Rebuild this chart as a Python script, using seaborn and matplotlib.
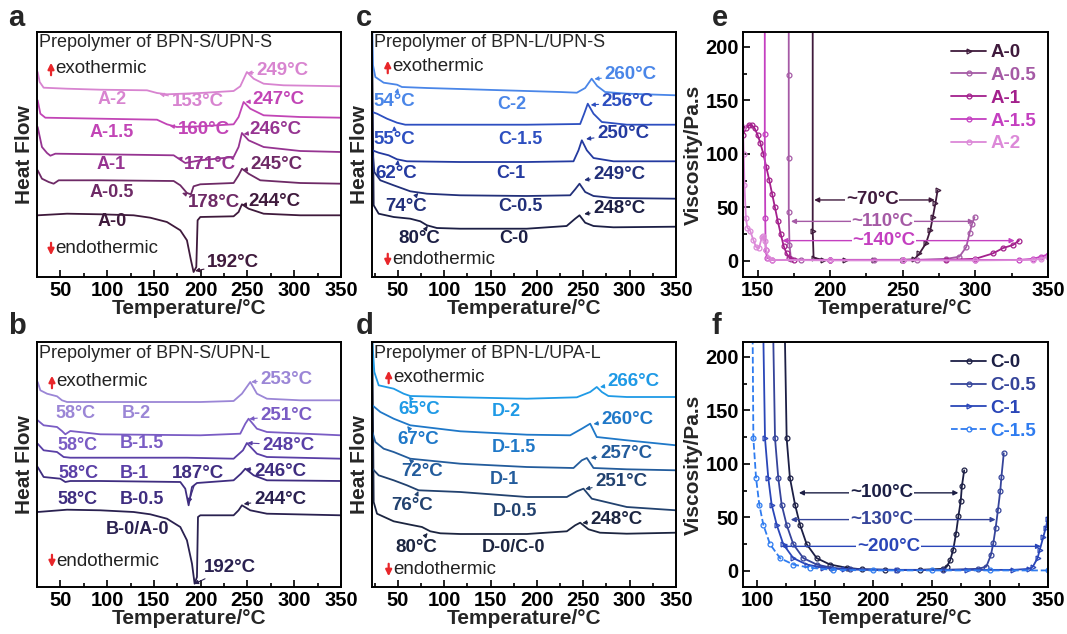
import matplotlib
matplotlib.use("Agg")
import matplotlib.pyplot as plt
from matplotlib.ticker import MultipleLocator, NullLocator
import pandas as pd
import seaborn as sns

# ---------------- a: DSC, prepolymer of BPN-S/UPN-S ----------------
a_names = ["A-0", "A-0.5", "A-1", "A-1.5", "A-2"]
a_colors = ["#3f1a3c", "#6e2a66", "#963491", "#c245b6", "#d884d0"]
a0_temp = [25.7, 57.1, 92.7, 128.3, 146.1, 163.9, 178.2, 185.3, 189.6, 192.4, 195.3, 196.7, 199.6, 235.2, 240.5, 244.1, 251.2, 267.3, 306.4, 350]
a0_flow = [61.7, 63.3, 62.7, 61.7, 59.3, 55, 46.7, 36.7, 16.7, 5, 10, 56.7, 60, 60.7, 65, 72.7, 68.3, 63.3, 61.7, 61.7]
a05_temp = [25.7, 30.3, 37.5, 42.8, 48.2, 92.7, 171.1, 178.2, 185.3, 189.6, 192.4, 199.6, 235.2, 240.5, 244.1, 251.2, 263.7, 306.4, 350]
a05_flow = [106.7, 98.3, 95, 93.3, 96.7, 96.7, 96, 91.7, 84, 82.7, 90.7, 92.7, 94, 101.7, 108.3, 103.3, 96.7, 94, 93.3]
a1_temp = [25.7, 30.3, 35.7, 39.3, 44.6, 92.7, 171.1, 178.2, 183.5, 199.6, 235.2, 240.5, 244.1, 251.2, 267.3, 306.4, 350]
a1_flow = [150, 130, 124, 121.3, 123.3, 122.7, 121.7, 117.3, 114, 116.7, 120, 130, 144, 136.7, 130, 126, 125]
a15_temp = [25.7, 28.6, 33.9, 92.7, 153.3, 163.9, 174.6, 199.6, 235.2, 240.5, 245.9, 253, 267.3, 306.4, 350]
a15_flow = [176.7, 163.3, 159.3, 158.3, 157.3, 152.7, 150, 150.7, 152.7, 160, 175, 168.3, 161.7, 160, 159.3]
a2_temp = [25.7, 27.9, 32.1, 57.1, 92.7, 142.6, 153.3, 163.9, 199.6, 235.2, 242.3, 249.4, 256.6, 267.3, 288.6, 350]
a2_flow = [205, 195, 189.3, 188.3, 187.3, 186.7, 184, 182.7, 184, 186, 190.7, 205, 198.3, 193.3, 191.7, 190.7]

# ---------------- b: DSC, prepolymer of BPN-S/UPN-L ----------------
b_names = ["B-0", "B-0.5", "B-1", "B-1.5", "B-2"]
b_colors = ["#2a2150", "#3f2d80", "#5a3fa6", "#7a5cc4", "#9b86d6"]
b0_temp = [25.7, 57.1, 92.7, 128.3, 146.1, 163.9, 178.2, 185.3, 190.7, 193.5, 196, 197.1, 199.6, 235.2, 240.5, 244.1, 253, 270.8, 350]
b0_flow = [75, 77.3, 76.7, 75, 72.7, 68.3, 60, 46.7, 23.3, 3.3, 10, 70, 71.7, 71.7, 76.7, 81.7, 76.7, 73.3, 71.7]
b05_temp = [25.7, 32.1, 49.9, 55.3, 60.6, 92.7, 178.2, 183.5, 187.1, 190.7, 196, 235.2, 243, 247.7, 256.6, 270.8, 350]
b05_flow = [120, 110, 108.3, 105, 106, 106, 105, 98.3, 81.7, 100, 104, 106.7, 113.3, 118.3, 111.7, 106.7, 106]
b1_temp = [25.7, 32.1, 46.4, 53.5, 60.6, 92.7, 185.3, 235.2, 245.2, 249.4, 260.1, 270.8, 350]
b1_flow = [143.3, 136.7, 135, 130, 129.3, 129.3, 129.3, 128.3, 136.7, 144, 133.3, 130, 128.3]
b15_temp = [25.7, 32.1, 46.4, 51.7, 55.3, 60.6, 92.7, 199.6, 242.3, 247.7, 251.2, 260.1, 270.8, 350]
b15_flow = [166.7, 161.7, 160, 156, 152.7, 156, 152.7, 151.7, 153.3, 163.3, 168.3, 158.3, 155, 151.7]
b2_temp = [25.7, 28.6, 35.7, 46.4, 51.7, 57.1, 92.7, 199.6, 235.2, 244.1, 253, 260.1, 270.8, 306.4, 350]
b2_flow = [205, 196.7, 193.3, 190.7, 186.7, 185, 185, 185, 186, 193.3, 205, 193.3, 188.3, 186.7, 186.7]

# ---------------- c: DSC, prepolymer of BPN-L/UPN-S ----------------
c_names = ["C-0", "C-0.5", "C-1", "C-1.5", "C-2"]
c_colors = ["#1c1f45", "#22307a", "#243aa0", "#2d4fc0", "#4a86e8"]
c0_temp = [22.4, 23.8, 29.2, 45.4, 63.3, 74.1, 81.3, 92, 117, 189, 232, 241.2, 245.9, 252, 261, 282.5, 350]
c0_flow = [211.7, 71.7, 63.3, 60, 58.3, 55.7, 51.7, 49, 48.3, 48.3, 51, 58.3, 61.7, 54.3, 51, 49.7, 50.3]
c05_temp = [22.4, 24.5, 31, 45.4, 63.3, 81.3, 117, 189, 235.8, 241.2, 245.9, 252, 261, 282.5, 350]
c05_flow = [128.3, 105, 96.7, 91.7, 85.7, 83.3, 81.7, 81, 81.7, 87.7, 93.3, 85, 81, 79, 78.3]
c1_temp = [22.4, 29.2, 40, 49, 59.7, 117, 189, 239.4, 244.8, 248.4, 253.8, 261, 282.5, 350]
c1_flow = [126.7, 124.3, 121.7, 117.7, 115.7, 115, 115, 115.7, 126.7, 136.7, 126.7, 119, 115.7, 115.7]
c15_temp = [22.4, 27.4, 38.2, 49, 57.9, 117, 189, 246.6, 250.9, 254.8, 261, 270, 297, 350]
c15_flow = [165, 163.3, 158.3, 154.3, 152.3, 152.3, 152.3, 153, 163.3, 173.3, 163.3, 155, 152.3, 152.3]
c2_temp = [22.4, 23.1, 25.6, 34.6, 49, 54.3, 81.3, 153, 225, 243, 252, 259, 265, 273.5, 297, 350]
c2_flow = [245, 211.7, 200, 194.3, 192.3, 190, 189, 187, 185, 184.3, 189, 198.3, 191, 185, 183.3, 181.7]

# ---------------- d: DSC, prepolymer of BPN-L/UPA-L ----------------
d_names = ["D-0", "D-0.5", "D-1", "D-1.5", "D-2"]
d_colors = ["#1c2540", "#22426f", "#235c9c", "#1f78c8", "#1f9ae6"]
d0_temp = [22.4, 23.8, 27.4, 45.4, 63.3, 75.9, 84.9, 95.7, 117.2, 189.1, 232.2, 241.2, 246.6, 255.6, 268, 296.9, 350]
d0_flow = [245, 85, 73.3, 65.7, 62.3, 60, 55.7, 53.7, 53, 53, 55.7, 61.7, 64.3, 57.7, 54.3, 53.3, 54.3]
d05_temp = [22.4, 29.2, 45.4, 59.7, 72.3, 117.2, 189.1, 232.2, 243, 250.2, 259.2, 296.9, 350]
d05_flow = [118.3, 111.7, 106.7, 101.7, 96.7, 95, 90, 90, 95.7, 98.3, 88.3, 80, 76.7]
d1_temp = [22.4, 25.6, 34.6, 45.4, 63.3, 117.2, 189.1, 239.4, 248.4, 253.8, 261, 296.9, 350]
d1_flow = [155, 145, 138.3, 135, 128.3, 123.3, 120, 119, 126.7, 129, 119, 117.7, 116.7]
d15_temp = [22.4, 31, 45.4, 63.3, 117.2, 189.1, 235.8, 248.4, 257.4, 264.5, 296.9, 350]
d15_flow = [181.7, 175, 168.3, 161.7, 155.7, 152.3, 151.7, 158.3, 163.3, 150, 146.7, 141.7]
d2_temp = [22.4, 24.5, 29.2, 45.4, 56.1, 63.3, 117.2, 189.1, 243, 257.4, 264.5, 270, 277, 296.9, 350]
d2_flow = [245, 215, 201.7, 198.3, 193.3, 191, 189.7, 188.3, 189.7, 195, 200, 195, 191, 190, 190]

# ---------------- e: viscosity, A series ----------------
e_colors = ["#3f1a3c", "#a55aa5", "#a3208c", "#c43fc0", "#dc88d8"]
e0_temp = [188, 188, 188.6, 195, 210, 230, 250, 258, 261.5, 266, 269, 270.7, 272.5, 274]
e0_visc = [300, 28, 3, 1, 1, 1, 1, 1.5, 7, 16.5, 29, 41, 54, 66]
e05_temp = [171.5, 171.5, 171.5, 171.5, 172, 173, 180, 200, 230, 260, 280, 289, 293.7, 296, 297.8, 299.4]
e05_visc = [300, 174, 96, 46, 15, 2, 1, 1, 1, 1, 2, 4, 13, 26, 35, 41]
e1_temp = [140, 142, 144, 146, 148, 150, 152, 154, 156, 158, 160, 162, 164, 166, 168, 170, 172, 175, 200, 250, 280, 300, 312, 319, 326, 330]
e1_visc = [118, 124, 127, 127, 124, 118, 110, 100, 88, 76, 63, 50, 37, 25, 14, 7, 3, 1, 1, 1, 1, 2, 7, 12, 15, 19]
e15_temp = [155, 155, 155.3, 155.6, 156.5, 160, 200, 250, 300, 330, 340, 345, 350]
e15_visc = [300, 119, 40, 10, 3, 1, 1, 1, 1, 1, 2, 4, 6]
e2_temp = [140, 140.5, 141, 142, 143, 145, 147, 149, 151, 153, 154, 155, 156, 157.5, 160, 200, 250, 300, 340, 345, 350]
e2_visc = [125, 100, 71, 40, 31, 28, 20, 13, 12, 22, 23, 19, 10, 3, 1, 0.5, 0.5, 0.5, 1, 2, 4]

# ---------------- f: viscosity, C series ----------------
f_names = ["C-0", "C-0.5", "C-1", "C-1.5"]
f_colors = ["#1c1f45", "#35449a", "#2a46b8", "#2f7cf0"]
f0_temp = [124, 125.5, 128.3, 132.7, 137, 142.7, 151.3, 162.7, 177, 190, 210, 240, 260, 263, 266, 268.6, 271, 273, 275, 276, 278]
f0_visc = [218, 124, 87, 62, 43, 25, 12, 6, 3, 1.5, 1, 1, 2, 4, 10, 20, 35, 51, 65, 79, 94]
f05_temp = [114, 115.5, 118.3, 121.2, 125.5, 131.2, 139.8, 151.3, 164, 180, 220, 260, 290, 297, 301, 303, 305, 307, 309, 310, 312]
f05_visc = [218, 124, 87, 62, 43, 25, 12, 6, 3, 1.5, 1, 1, 2, 4, 15, 26, 40, 57, 75, 88, 110]
f1_temp = [105.5, 106.9, 109.7, 112.6, 117, 122.6, 131.2, 142.7, 157, 175, 220, 280, 320, 334, 337, 341, 343, 346, 348, 350]
f1_visc = [218, 124, 87, 62, 43, 25, 12, 6, 3, 1.5, 1, 1, 1, 2, 4, 12, 20, 32, 40, 49]
f15_temp = [96.3, 96.9, 99.2, 102, 105.5, 111.2, 119.8, 131.2, 145.5, 165, 200, 250, 300, 350]
f15_visc = [218, 124, 87, 62, 43, 25, 12, 6, 3, 1, 0.5, 0.5, 0.5, 0.5]

sns.set_style("ticks")
plt.rcParams["font.family"] = ["Liberation Sans", "DejaVu Sans"]
plt.rcParams["font.weight"] = "bold"
plt.rcParams["axes.labelweight"] = "bold"

fig = plt.figure(figsize=(10.67, 6.34), dpi=100)
W, H = 1067, 634


def add_ax(left, top, width=304, height=245):
    return fig.add_axes([left / W, 1 - (top + height) / H, width / W, height / H])


def frame(ax, minor=25):
    for s in ax.spines.values():
        s.set_linewidth(1.4)
        s.set_color("black")
    ax.tick_params(which="both", direction="in", width=1.2, colors="black")
    ax.tick_params(which="major", length=5, labelsize=14.5, pad=3)
    ax.tick_params(which="minor", length=3)
    ax.xaxis.set_minor_locator(MultipleLocator(minor))
    ax.set_xlabel("Temperature/°C", fontsize=15, labelpad=-1)


def dsc(ax, names, colors, temps, flows, xmin, title):
    df = pd.concat([pd.DataFrame({"sample": n, "temp": t, "flow": f})
                    for n, t, f in zip(names, temps, flows)], ignore_index=True)
    sns.lineplot(data=df, x="temp", y="flow", hue="sample", hue_order=names,
                 palette=colors, estimator=None, sort=False, legend=False,
                 linewidth=1.3, ax=ax)
    ax.set_xlim(xmin, 350)
    ax.set_ylim(0, 245)
    ax.set_xticks([50, 100, 150, 200, 250, 300, 350])
    ax.yaxis.set_major_locator(NullLocator())
    ax.yaxis.set_minor_locator(NullLocator())
    frame(ax)
    ax.set_ylabel("Heat Flow", fontsize=15, labelpad=2)
    ax.text(xmin + 2, 234, title, fontsize=13, fontweight="normal", va="center", ha="left")


def exo_endo(ax, x, exo_y, endo_y):
    ax.annotate("", xy=(x, exo_y + 9), xytext=(x, exo_y - 9),
                arrowprops=dict(arrowstyle="-|>", color="#e8262a", lw=1.6, mutation_scale=9))
    ax.annotate("", xy=(x, endo_y - 9), xytext=(x, endo_y + 9),
                arrowprops=dict(arrowstyle="-|>", color="#e8262a", lw=1.6, mutation_scale=9))
    ax.text(x + 5, exo_y, "exothermic", fontsize=13.5, fontweight="normal", va="center", ha="left", color="#222222")
    ax.text(x + 5, endo_y, "endothermic", fontsize=13.5, fontweight="normal", va="center", ha="left", color="#222222")


def label(ax, text, xy, color, ha="center"):
    ax.text(xy[0], xy[1], text, color=color, fontsize=13, ha=ha, va="center")


def point(ax, text, xy_text, tip, color, ha="left"):
    ax.annotate(text, xy=tip, xytext=xy_text, color=color, fontsize=13.5, ha=ha, va="center",
                arrowprops=dict(arrowstyle="-|>", color=color, lw=0.8, mutation_scale=6,
                                shrinkA=0, shrinkB=0))


# panel a
ax = add_ax(37, 32)
dsc(ax, a_names, a_colors, [a0_temp, a05_temp, a1_temp, a15_temp, a2_temp],
    [a0_flow, a05_flow, a1_flow, a15_flow, a2_flow], 25, "Prepolymer of BPN-S/UPN-S")
exo_endo(ax, 40, 208, 28)
for t, xy, i in [("A-2", (105, 177), 4), ("A-1.5", (105, 144), 3), ("A-1", (104, 112), 2),
                 ("A-0.5", (105, 84), 1), ("A-0", (105, 55), 0)]:
    label(ax, t, xy, a_colors[i])
for t, xy, tip, i in [("249°C", (260, 206), (250, 204), 4), ("153°C", (169, 175), (156, 183), 4),
                      ("247°C", (255, 177), (248, 175), 3), ("160°C", (176, 147), (167, 151), 3),
                      ("246°C", (252, 147), (246, 143), 2), ("171°C", (182, 112), (175, 119), 2),
                      ("245°C", (253, 112), (245, 107), 1), ("178°C", (186, 74), (180, 84), 1),
                      ("244°C", (251, 75), (244, 72), 0), ("192°C", (207, 14), (194, 6), 0)]:
    point(ax, t, xy, tip, a_colors[i])

# panel b
ax = add_ax(37, 342)
dsc(ax, b_names, b_colors, [b0_temp, b05_temp, b1_temp, b15_temp, b2_temp],
    [b0_flow, b05_flow, b1_flow, b15_flow, b2_flow], 25, "Prepolymer of BPN-S/UPN-L")
exo_endo(ax, 41, 205, 26)
for t, xy, i in [("58°C", (66, 173), 4), ("B-2", (131, 173), 4), ("58°C", (68, 142), 3),
                 ("B-1.5", (137, 143), 3), ("58°C", (69, 113), 2), ("B-1", (129, 113), 2),
                 ("58°C", (68, 88), 1), ("B-0.5", (137, 88), 1), ("B-0/A-0", (132, 58), 0)]:
    label(ax, t, xy, b_colors[i])
for t, xy, tip, i in [("253°C", (264, 208), (254, 205), 4), ("251°C", (264, 172), (252, 168), 3),
                      ("248°C", (266, 142), (250, 144), 2), ("246°C", (257, 115), (248, 118), 1),
                      ("244°C", (257, 88), (246, 83), 0), ("192°C", (203, 20), (193, 3), 0)]:
    point(ax, t, xy, tip, b_colors[i])
point(ax, "187°C", (197, 113), (187, 84), b_colors[1], ha="center")

# panel c
ax = add_ax(372, 32)
dsc(ax, c_names, c_colors, [c0_temp, c05_temp, c1_temp, c15_temp, c2_temp],
    [c0_flow, c05_flow, c1_flow, c15_flow, c2_flow], 22, "Prepolymer of BPN-L/UPN-S")
exo_endo(ax, 39, 210, 17)
for t, xy, i in [("C-2", (173, 172), 4), ("C-1.5", (182, 137), 3), ("C-1", (172, 103), 2),
                 ("C-0.5", (182, 70), 1), ("C-0", (175, 38), 0)]:
    label(ax, t, xy, c_colors[i])
for t, xy, tip, i in [("260°C", (273, 202), (262, 198), 4), ("54°C", (24, 175), (50, 189), 4),
                      ("256°C", (270, 175), (258, 172), 3), ("55°C", (24, 137), (46, 151), 3),
                      ("250°C", (265, 143), (253, 138), 2), ("62°C", (26, 103), (50, 117), 2),
                      ("249°C", (261, 102), (251, 97), 1), ("74°C", (36, 70), (72, 84), 1),
                      ("248°C", (261, 68), (251, 63), 0), ("80°C", (50, 38), (82, 51), 0)]:
    point(ax, t, xy, tip, c_colors[i])

# panel d
ax = add_ax(372, 342)
dsc(ax, d_names, d_colors, [d0_temp, d05_temp, d1_temp, d15_temp, d2_temp],
    [d0_flow, d05_flow, d1_flow, d15_flow, d2_flow], 22, "Prepolymer of BPN-L/UPA-L")
exo_endo(ax, 40, 210, 17)
for t, xy, i in [("D-2", (167, 175), 4), ("D-1.5", (175, 140), 3), ("D-1", (165, 108), 2),
                 ("D-0.5", (176, 75), 1), ("D-0/C-0", (175, 40), 0)]:
    label(ax, t, xy, d_colors[i])
for t, xy, tip, i in [("266°C", (276, 205), (268, 200), 4), ("65°C", (50, 177), (62, 191), 4),
                      ("260°C", (270, 168), (261, 163), 3), ("67°C", (49, 147), (60, 161), 3),
                      ("257°C", (268, 133), (258, 129), 2), ("72°C", (54, 115), (62, 128), 2),
                      ("251°C", (263, 105), (252, 98), 1), ("76°C", (43, 82), (72, 96), 1),
                      ("248°C", (258, 68), (249, 64), 0), ("80°C", (47, 40), (82, 54), 0)]:
    point(ax, t, xy, tip, d_colors[i])


def viscosity(ax, series, colors, markers, styles, xmin, xticks):
    for (name, t, v), c, m, ls in zip(series, colors, markers, styles):
        sns.lineplot(x=t, y=v, color=c, marker=m, markersize=3.5, markerfacecolor="none",
                     markeredgewidth=0.9, markeredgecolor=c, linewidth=1.3, linestyle=ls,
                     estimator=None, sort=False, label=name, ax=ax)
    ax.set_xlim(xmin, 350)
    ax.set_ylim(-15, 214)
    ax.set_xticks(xticks)
    ax.set_yticks([0, 50, 100, 150, 200])
    ax.yaxis.set_minor_locator(MultipleLocator(25))
    frame(ax)
    ax.set_ylabel("Viscosity/Pa.s", fontsize=15, labelpad=2)
    leg = ax.legend(loc="upper right", frameon=False, fontsize=13.5, handlelength=1.9,
                    handletextpad=0.2, labelspacing=0.3, borderaxespad=0.25)
    for txt, c in zip(leg.get_texts(), colors):
        txt.set_color(c)


def span(ax, text, x0, x1, y, xc, color):
    ax.annotate("", xy=(x0, y), xytext=(x1, y),
                arrowprops=dict(arrowstyle="<|-|>", color=color, lw=1.0, mutation_scale=7,
                                shrinkA=0, shrinkB=0))
    ax.text(xc, y, text, color=color, fontsize=13.5, ha="center", va="center",
            bbox=dict(facecolor="white", edgecolor="none", pad=0.5))


# panel e
ax = add_ax(743, 32, 305, 245)
viscosity(ax, [("A-0", e0_temp, e0_visc), ("A-0.5", e05_temp, e05_visc), ("A-1", e1_temp, e1_visc),
               ("A-1.5", e15_temp, e15_visc), ("A-2", e2_temp, e2_visc)],
          e_colors, [">", "o", "o", "o", "o"], ["-"] * 5, 140, [150, 200, 250, 300, 350])
span(ax, "~70°C", 189, 272, 57, 229, e_colors[0])
span(ax, "~110°C", 173, 299, 37, 236, e_colors[1])
span(ax, "~140°C", 167, 327, 19, 237, e_colors[3])

# panel f
ax = add_ax(743, 342, 305, 245)
viscosity(ax, [(n, t, v) for n, t, v in zip(f_names, [f0_temp, f05_temp, f1_temp, f15_temp],
                                           [f0_visc, f05_visc, f1_visc, f15_visc])],
          f_colors, ["o", "o", ">", "o"], ["-", "-", "-", "--"], 88, [100, 150, 200, 250, 300, 350])
span(ax, "~100°C", 136, 273, 73, 207, f_colors[0])
span(ax, "~130°C", 129, 305, 48, 207, f_colors[1])
span(ax, "~200°C", 121, 344, 23, 213, f_colors[2])

for letter, x, y in [("a", 8, 4), ("c", 356, 4), ("e", 712, 4), ("b", 8, 312), ("d", 356, 312), ("f", 712, 312)]:
    fig.text(x / W, 1 - y / H, letter, fontsize=21, fontweight="bold", va="top", ha="left")

fig.savefig("out.png", dpi=100)
